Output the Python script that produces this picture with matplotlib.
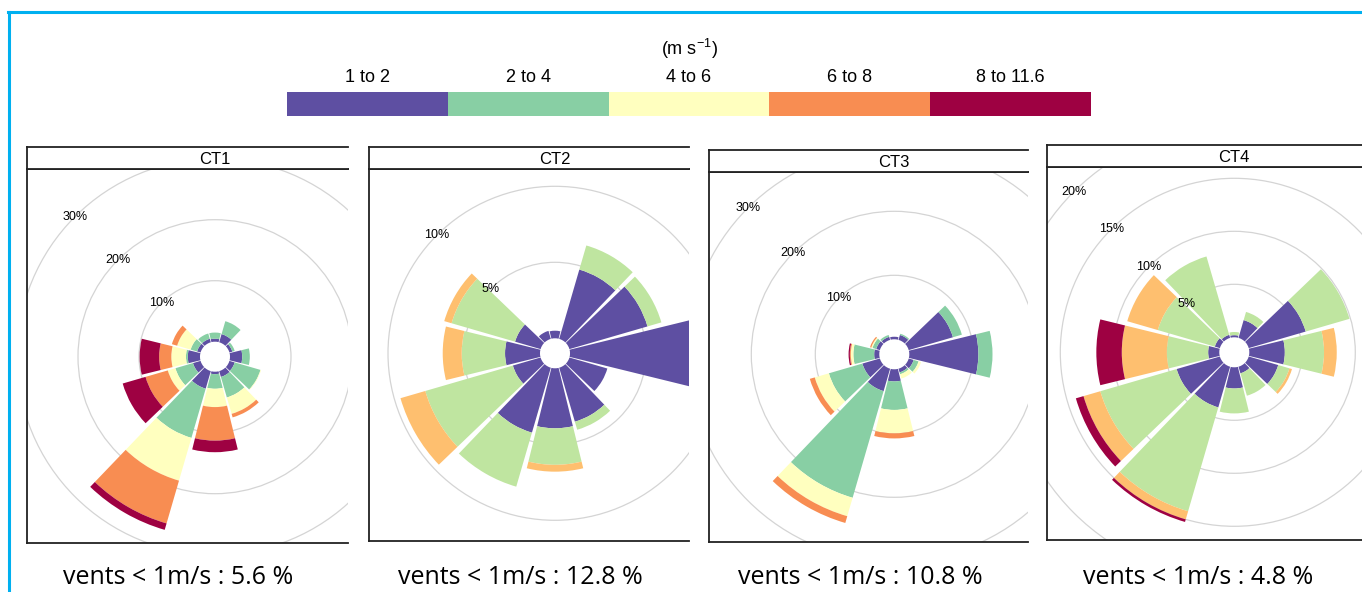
import matplotlib
matplotlib.use('Agg')
from matplotlib import pyplot as plt
from matplotlib.patches import Wedge, Circle
from matplotlib.lines import Line2D

# wind directions (degrees, clockwise from north)
directions = [0, 30, 60, 90, 120, 150, 180, 210, 240, 270, 300, 330]
speed_labels = ['1 to 2', '2 to 4', '4 to 6', '6 to 8', '8 to 11.6']
cols5 = ['#5E4FA2', '#88CFA4', '#FFFFBF', '#F88D52', '#9E0142']
cols4 = ['#5E4FA2', '#BFE5A0', '#FEBF6F', '#9E0142']

# CT1 (% of time per direction and speed class)
ct1_1to2 = [0.5, 1.4, 0.5, 2.0, 0.9, 1.0, 0.4, 3.0, 1.3, 2.0, 0.6, 0.6]
ct1_2to4 = [1.0, 2.2, 0.4, 1.25, 4.4, 3.5, 2.4, 8.4, 3.0, 0.3, 1.1, 0.9]
ct1_4to6 = [0, 0, 0, 0, 0.1, 2.8, 3.0, 7.3, 1.3, 2.4, 2.3, 0]
ct1_6to8 = [0, 0, 0, 0, 0, 0.6, 5.5, 7.3, 3.8, 2.0, 0.9, 0]
ct1_8to12 = [0, 0, 0, 0, 0, 0, 1.9, 1.1, 3.9, 3.2, 0, 0]

# CT2 (four colour classes)
ct2_c1 = [0.5, 4.75, 5.35, 9.6, 2.6, 3.7, 3.95, 4.45, 1.9, 2.3, 1.75, 0.55]
ct2_c2 = [0, 1.65, 0.95, 0, 0, 0.55, 2.4, 3.7, 6.0, 2.85, 4.35, 0]
ct2_c3 = [0, 0, 0, 0, 0, 0, 0.45, 0, 1.7, 1.25, 0.5, 0]
ct2_c4 = [0, 0, 0, 0, 0, 0, 0, 0, 0, 0, 0, 0]

# CT3
ct3_1to2 = [0.4, 0.8, 7.2, 10.8, 0.8, 0.6, 1.9, 3.65, 2.85, 0.8, 0.6, 0.5]
ct3_2to4 = [0, 0.2, 1.45, 2.2, 0.8, 0.3, 4.45, 17.35, 5.45, 3.25, 0.6, 0.3]
ct3_4to6 = [0, 0, 0, 0, 0.4, 0.7, 3.65, 3.0, 2.3, 0.4, 0.2, 0]
ct3_6to8 = [0, 0, 0, 0, 0, 0, 0.8, 1.1, 0.8, 0.15, 0.2, 0]
ct3_8to12 = [0, 0, 0, 0, 0, 0, 0, 0, 0, 0.2, 0, 0]

# CT4 (four colour classes)
ct4_c1 = [0.2, 1.75, 5.6, 3.35, 2.9, 0.65, 2.0, 4.0, 4.25, 1.05, 0.5, 0.3]
ct4_c2 = [0.3, 0.8, 4.3, 3.7, 1.1, 2.2, 2.35, 10.2, 7.5, 3.9, 5.6, 7.7]
ct4_c3 = [0, 0, 0, 1.2, 0.25, 0, 0, 0.8, 1.65, 4.25, 3.0, 0]
ct4_c4 = [0, 0, 0, 0, 0, 0, 0, 0.25, 0.75, 2.4, 0, 0]

titles = ['CT1', 'CT2', 'CT3', 'CT4']
rings = [[10, 20, 30], [5, 10], [10, 20, 30], [5, 10, 15, 20]]
calms = [5.6, 12.8, 10.8, 4.8]

series = [[ct1_1to2, ct1_2to4, ct1_4to6, ct1_6to8, ct1_8to12],
          [ct2_c1, ct2_c2, ct2_c3, ct2_c4],
          [ct3_1to2, ct3_2to4, ct3_4to6, ct3_6to8, ct3_8to12],
          [ct4_c1, ct4_c2, ct4_c3, ct4_c4]]
colours = [cols5, cols4, cols5, cols4]

W, H = 1362, 592
fig = plt.figure(figsize=(W / 100, H / 100), dpi=100)

# panel layout in pixels: left, right, strip top, strip bottom, bottom, centre x, centre y, px per %
layout = [(27, 348, 147, 169, 543, 215, 356.7, 6.1),
          (369, 689, 147, 169, 541, 555, 353.3, 15.2),
          (709, 1028, 150, 172, 542, 894.3, 354.3, 6.4),
          (1047, 1362, 145, 167, 540, 1234.3, 352.3, 10.6)]
hole_px = 15
half = 13.8  # half width of a sector in degrees

for p in range(4):
    x0, x1, yt, ys, yb, cx, cy, k = layout[p]
    hole = hole_px / k

    ax = fig.add_axes([x0 / W, 1 - yb / H, (x1 - x0) / W, (yb - ys) / H])
    ax.set_xlim((x0 - cx) / k, (x1 - cx) / k)
    ax.set_ylim((cy - yb) / k, (cy - ys) / k)
    ax.set_xticks([])
    ax.set_yticks([])
    ax.spines['right'].set_visible(False)
    for s in ['left', 'top', 'bottom']:
        ax.spines[s].set_linewidth(1.3)
        ax.spines[s].set_color('#222222')

    for lv in rings[p]:
        ax.add_patch(Circle((0, 0), hole + lv, fill=False, ec='#d4d4d4', lw=0.9, zorder=1))

    for i, d in enumerate(directions):
        base = 0
        for vals, c in zip(series[p], colours[p]):
            v = vals[i]
            if v <= 0:
                continue
            ax.add_patch(Wedge((0, 0), hole + base + v, 90 - d - half, 90 - d + half,
                               width=v, fc=c, ec='none', zorder=2))
            base += v

    for lv in rings[p]:
        r = (hole + lv) * 0.7071
        ax.text(-r, r, '%d%%' % lv, ha='center', va='center', fontsize=9,
                family='Liberation Sans', zorder=3)

    # strip with panel title
    st = fig.add_axes([x0 / W, 1 - ys / H, (x1 - x0) / W, (ys - yt) / H])
    st.set_xlim((x0 - cx) / k, (x1 - cx) / k)
    st.set_ylim(0, 1)
    st.set_xticks([])
    st.set_yticks([])
    st.spines['right'].set_visible(False)
    for s in ['left', 'top', 'bottom']:
        st.spines[s].set_linewidth(1.3)
        st.spines[s].set_color('#222222')
    st.text(0, 0.45, titles[p], ha='center', va='center', fontsize=12,
            family='Liberation Sans')

    fig.text((x0 + 151) / W, 1 - 578 / H, 'vents < 1m/s : %.1f %%' % calms[p],
             ha='center', va='center', fontsize=18, family='Open Sans')

# colour key
lg = fig.add_axes([287 / W, 1 - 116 / H, (1091 - 287) / W, 24 / H])
lg.bar(range(len(speed_labels)), [1] * len(speed_labels), width=1, align='edge', color=cols5)
lg.set_xlim(0, len(speed_labels))
lg.set_ylim(0, 1)
lg.axis('off')
for i, lab in enumerate(speed_labels):
    lg.text(i + 0.5, 1.6, lab, ha='center', va='center', fontsize=13, family='Liberation Sans')
lg.text(2.5, 2.8, r'(m s$^{\mathregular{-1}}$)', ha='center', va='center', fontsize=13,
        family='Liberation Sans')

# blue frame of the screenshot
fig.add_artist(Line2D([9 / W, 9 / W], [0, 1 - 12 / H], color='#00B0F0', lw=2.2))
fig.add_artist(Line2D([8 / W, 1], [1 - 12 / H, 1 - 12 / H], color='#00B0F0', lw=2.2))

plt.savefig('out.png', dpi=100)
